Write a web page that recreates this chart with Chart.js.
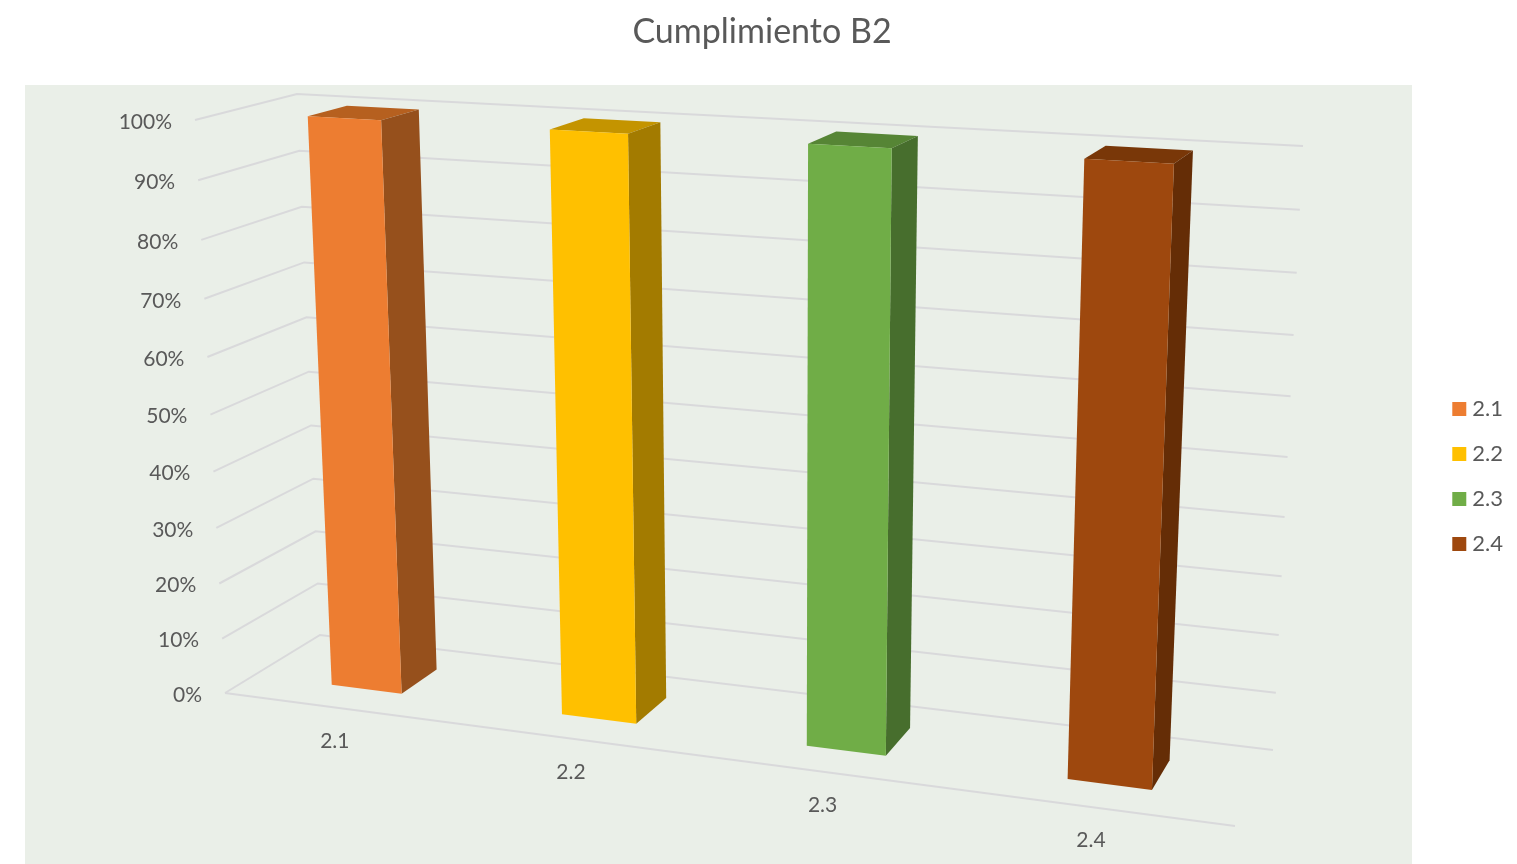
<!DOCTYPE html>
<html>
<head>
<meta charset="utf-8">
<title>Cumplimiento B2</title>
<script src="https://cdn.jsdelivr.net/npm/chart.js@4"></script>
<style>
html, body { margin: 0; padding: 0; background: #fff; overflow: hidden; }
#wrap { position: absolute; left: 0; top: 0; width: 1517px; height: 864px; }
</style>
</head>
<body>
<div id="wrap"><canvas id="canvasB2"></canvas></div>
<script>
"use strict";
var categories = ["2.1", "2.2", "2.3", "2.4"];
var barValues = [1, 1, 1, 1];
var frontColors = ["#ED7D31", "#FFC000", "#70AD47", "#9E480E"];
var sideColors = ["#96501C", "#A37B00", "#476E2D", "#652D06"];
var topColors = ["#B6601F", "#C49400", "#568535", "#793708"];

// corners of the 3d box as they land on the page, [u, value, depth]
var box = {
    c000: [225, 693], c100: [1235, 826], c001: [320, 635], c101: [1273, 750],
    c010: [195, 120], c110: [1262, 180], c011: [297, 94], c111: [1303, 146]
};
var weightU = 0.88, weightV = 0.945, weightW = 1.063;
var barDepthFront = 0.3, barDepthBack = 0.7;
var barShift = 0.0008;

function project(u, v, w) {
    var sx = 0, sy = 0, sw = 0;
    [0, 1].forEach(function (a) {
        [0, 1].forEach(function (b) {
            [0, 1].forEach(function (c) {
                var lam = (a ? u : 1 - u) * (b ? v : 1 - v) * (c ? w : 1 - w);
                var wt = lam * (1 + a * (weightU - 1) + b * (weightV - 1) + c * (weightW - 1));
                var p = box["c" + a + b + c];
                sx += wt * p[0];
                sy += wt * p[1];
                sw += wt;
            });
        });
    });
    return { x: sx / sw, y: sy / sw };
}

function poly(ctx, pts, color) {
    ctx.beginPath();
    pts.forEach(function (p, i) {
        if (i === 0) ctx.moveTo(p.x, p.y);
        else ctx.lineTo(p.x, p.y);
    });
    ctx.closePath();
    ctx.fillStyle = color;
    ctx.fill();
}

var scene3d = {
    id: "scene3d",
    beforeDatasetsDraw: function (chart) {
        var ctx = chart.ctx;
        var area = chart.chartArea;
        var yScale = chart.scales.y;
        var xScale = chart.scales.x;
        function vOf(val) {
            return (yScale.bottom - yScale.getPixelForValue(val)) / (yScale.bottom - yScale.top);
        }
        function uOf(px) {
            return (px - area.left) / (area.right - area.left);
        }

        ctx.save();
        // panel
        ctx.fillStyle = "#EAEFE8";
        ctx.fillRect(25, 85, 1387, 779);

        // walls and floor
        ctx.strokeStyle = "#D9D9DB";
        ctx.lineWidth = 2;
        yScale.ticks.forEach(function (tick) {
            var v = vOf(tick.value);
            var a = project(0, v, 0), b = project(0, v, 1), c = project(1, v, 1);
            ctx.beginPath();
            ctx.moveTo(a.x, a.y);
            ctx.lineTo(b.x, b.y);
            ctx.lineTo(c.x, c.y);
            ctx.stroke();
        });
        var f0 = project(0, 0, 0), f1 = project(1, 0, 0);
        ctx.beginPath();
        ctx.moveTo(f0.x, f0.y);
        ctx.lineTo(f1.x, f1.y);
        ctx.stroke();

        // tick labels
        ctx.fillStyle = "#595959";
        ctx.font = "21px Lato";
        ctx.textBaseline = "middle";
        ctx.textAlign = "right";
        yScale.ticks.forEach(function (tick) {
            var p = project(0, vOf(tick.value), 0);
            ctx.fillText(tick.label, p.x - 23, p.y + 2);
        });
        ctx.textAlign = "center";
        categories.forEach(function (cat, i) {
            var p = project(uOf(xScale.getPixelForValue(i)), 0, 0);
            ctx.fillText(cat, p.x - 3, p.y + 33);
        });

        // bars
        chart.getDatasetMeta(0).data.forEach(function (bar, i) {
            var u0 = uOf(bar.x - bar.width / 2) + barShift, u1 = uOf(bar.x + bar.width / 2) + barShift;
            var v0 = vOf(0), v1 = (yScale.bottom - bar.y) / (yScale.bottom - yScale.top);
            poly(ctx, [project(u0, v1, barDepthFront), project(u1, v1, barDepthFront),
                project(u1, v1, barDepthBack), project(u0, v1, barDepthBack)], topColors[i]);
            poly(ctx, [project(u1, v0, barDepthFront), project(u1, v0, barDepthBack),
                project(u1, v1, barDepthBack), project(u1, v1, barDepthFront)], sideColors[i]);
            poly(ctx, [project(u0, v0, barDepthFront), project(u1, v0, barDepthFront),
                project(u1, v1, barDepthFront), project(u0, v1, barDepthFront)], frontColors[i]);
        });
        ctx.restore();
        return false;
    }
};

new Chart(document.getElementById("canvasB2"), {
    type: "bar",
    plugins: [scene3d],
    data: {
        labels: categories,
        datasets: [{
            label: "Cumplimiento B2",
            data: barValues,
            backgroundColor: frontColors,
            barPercentage: 0.31,
            categoryPercentage: 1
        }]
    },
    options: {
        responsive: true,
        maintainAspectRatio: false,
        animation: false,
        layout: { padding: { left: 11, right: 4, top: 0, bottom: 0 } },
        scales: {
            x: { display: false },
            y: {
                display: false,
                min: 0,
                max: 1,
                ticks: {
                    stepSize: 0.1,
                    callback: function (value) { return Math.round(value * 100) + "%"; }
                }
            }
        },
        plugins: {
            tooltip: { enabled: false },
            title: {
                display: true,
                text: "Cumplimiento B2",
                color: "#595959",
                font: { family: "Lato", size: 34, weight: "normal", lineHeight: 1.2 },
                padding: { top: 12, bottom: 36 }
            },
            legend: {
                position: "right",
                fullSize: false,
                onClick: null,
                labels: {
                    color: "#595959",
                    font: { family: "Lato", size: 22 },
                    boxWidth: 4,
                    boxHeight: 4,
                    padding: 23,
                    generateLabels: function () {
                        return categories.map(function (cat, i) {
                            return {
                                text: cat,
                                fontColor: "#595959",
                                fillStyle: frontColors[i],
                                strokeStyle: frontColors[i],
                                lineWidth: 10,
                                hidden: false,
                                index: i
                            };
                        });
                    }
                }
            }
        }
    }
});
</script>
</body>
</html>
